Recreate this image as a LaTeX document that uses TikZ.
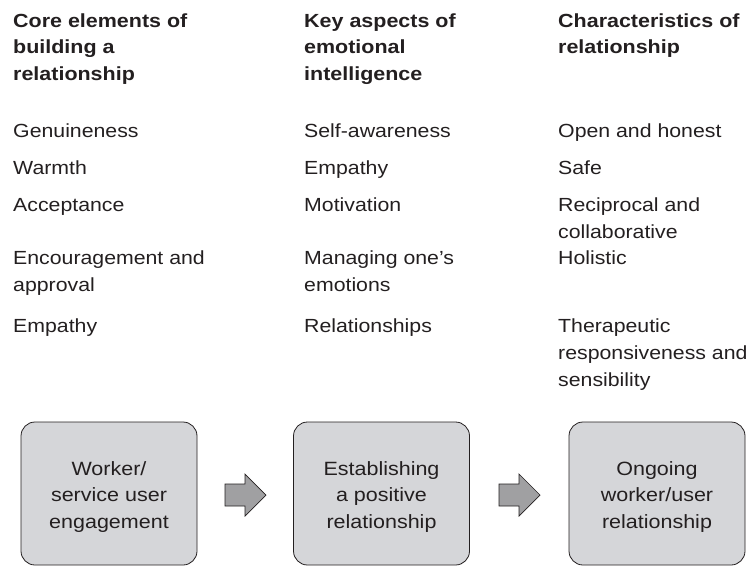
\documentclass[tikz,border=0pt]{standalone}
\usepackage{fontspec}
\setmainfont[FakeStretch=1.12]{Liberation Sans}
\newfontfamily\headfont[FakeStretch=1.13]{Liberation Sans}
\definecolor{boxgrey}{RGB}{213,214,217}
\definecolor{arrowgrey}{RGB}{160,160,162}
\definecolor{inkc}{RGB}{35,31,32}
\newcommand{\itemlines}[1]{\begin{tabular}[t]{@{}l@{}}#1\end{tabular}}
\newcommand{\centrelines}[1]{\begin{tabular}[t]{@{}c@{}}#1\end{tabular}}
\tikzset{
  coltext/.style={anchor=base west, inner sep=0pt, text=inkc,
    font=\fontsize{19}{27}\selectfont},
  colhead/.style={coltext, font=\headfont\fontsize{19}{26.7}\selectfont\bfseries},
  stagebox/.style={draw=inkc, line width=0.8pt, fill=boxgrey, rounded corners=14pt,
    minimum width=176pt, minimum height=143pt, inner sep=0pt},
  boxtext/.style={anchor=base, inner sep=0pt, text=inkc,
    font=\fontsize{19.2}{26.5}\selectfont},
  blockarrow/.pic={\draw[fill=arrowgrey, draw=inkc, line width=0.7pt, line join=miter]
    (0,-11) -- (20,-11) -- (20,-21) -- (41,0) -- (20,21) -- (20,11) -- (0,11) -- cycle;}
}
\begin{document}
\begin{tikzpicture}[x=1pt,y=-1pt]
\useasboundingbox (0,0) rectangle (750,566);
% headers
\node[colhead] (h1) at (13,27) {\itemlines{Core elements of\\building a\\relationship}};
\node[colhead] (h2) at (304,27) {\itemlines{Key aspects of\\emotional\\intelligence}};
\node[colhead] (h3) at (558,27) {\itemlines{Characteristics of\\relationship}};
% column 1
\node[coltext] (a1) at (13,137) {Genuineness};
\node[coltext] (a2) at (13,174) {Warmth};
\node[coltext] (a3) at (13,211) {Acceptance};
\node[coltext] (a4) at (13,264) {\itemlines{Encouragement and\\approval}};
\node[coltext] (a5) at (13,332) {Empathy};
% column 2
\node[coltext] (k1) at (304,137) {Self-awareness};
\node[coltext] (k2) at (304,174) {Empathy};
\node[coltext] (k3) at (304,211) {Motivation};
\node[coltext] (k4) at (304,264) {\itemlines{Managing one’s\\emotions}};
\node[coltext] (k5) at (304,332) {Relationships};
% column 3
\node[coltext] (c1) at (558,137) {Open and honest};
\node[coltext] (c2) at (558,174) {Safe};
\node[coltext] (c3) at (558,211) {\itemlines{Reciprocal and\\collaborative}};
\node[coltext] (c4) at (558,264) {Holistic};
\node[coltext] (c5) at (558,332) {\itemlines{Therapeutic\\responsiveness and\\sensibility}};
% stage boxes
\node[stagebox] (b1) at (109,493.5) {};
\node[stagebox] (b2) at (381.5,493.5) {};
\node[stagebox] (b3) at (657,493.5) {};
\node[boxtext] (t1) at (109,475) {\centrelines{Worker/\\service user\\engagement}};
\node[boxtext] (t2) at (381.5,475) {\centrelines{Establishing\\a positive\\relationship}};
\node[boxtext] (t3) at (657,475) {\centrelines{Ongoing\\worker/user\\relationship}};
% block arrows
\pic at (225,495) {blockarrow};
\pic at (499,495) {blockarrow};
\end{tikzpicture}
\end{document}
